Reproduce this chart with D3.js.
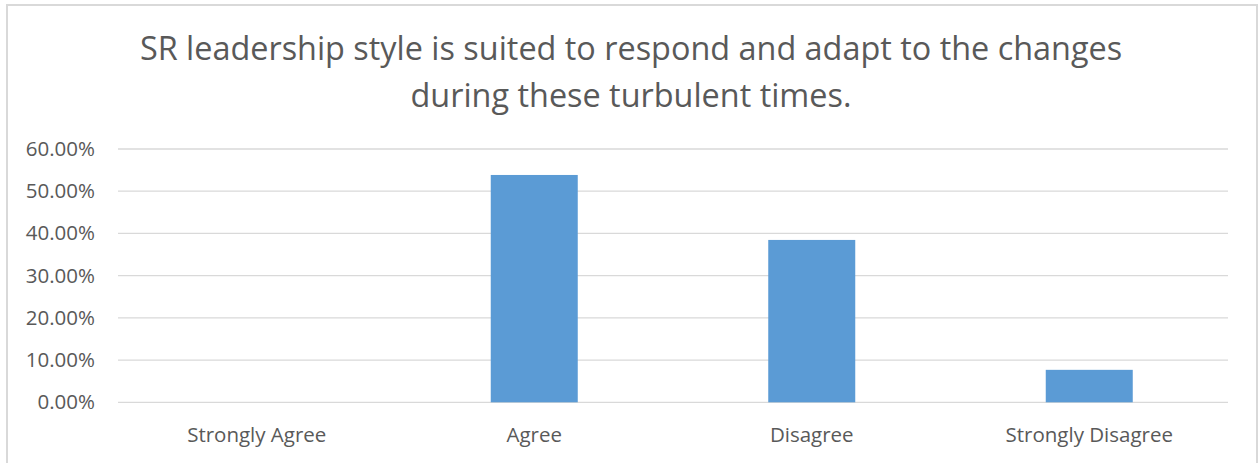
<!DOCTYPE html>
<html>
<head>
<meta charset="utf-8">
<script src="https://cdn.jsdelivr.net/npm/d3@7"></script>
<style>
  html, body { margin: 0; padding: 0; background: #ffffff; }
  svg { display: block; }
  text { font-family: "Open Sans", "Noto Sans", sans-serif; fill: #595959; }
</style>
</head>
<body>
<script>
// Survey responses (share of respondents)
const categories = ["Strongly Agree", "Agree", "Disagree", "Strongly Disagree"];
const shares = [0, 0.5385, 0.3846, 0.0769];
const yTicks = [0, 0.1, 0.2, 0.3, 0.4, 0.5, 0.6];
const titleLines = [
  "SR leadership style is suited to respond and adapt to the changes",
  "during these turbulent times."
];

const W = 1260, H = 463;
const svg = d3.select("body").append("svg").attr("width", W).attr("height", H);

// Chart frame (open at the bottom edge)
svg.append("path")
  .attr("d", `M7,${H} V5 H1257 V${H}`)
  .attr("fill", "none")
  .attr("stroke", "#d9d9d9")
  .attr("stroke-width", 2);

// Title
svg.append("g").selectAll("text")
  .data(titleLines)
  .join("text")
  .attr("x", 631)
  .attr("y", (d, i) => 60 + i * 47)
  .attr("text-anchor", "middle")
  .attr("font-size", 32.4)
  .text(d => d);

const x = d3.scaleBand().domain(categories).range([118, 1228]);
const y = d3.scaleLinear().domain([0, 0.6]).range([402.3, 149]);
const barW = x.bandwidth() * 0.3135;

// Gridlines
svg.append("g").selectAll("line")
  .data(yTicks)
  .join("line")
  .attr("x1", 118).attr("x2", 1228)
  .attr("y1", d => y(d)).attr("y2", d => y(d))
  .attr("stroke", "#d9d9d9")
  .attr("stroke-width", 1.3);

// Y axis labels
const yAxis = d3.axisLeft(y).tickValues(yTicks).tickSize(0).tickPadding(0)
  .tickFormat(d => (d * 100).toFixed(2) + "%");
svg.append("g")
  .attr("transform", "translate(95,0)")
  .call(yAxis)
  .call(g => g.select(".domain").remove())
  .call(g => g.selectAll("text")
    .attr("font-size", 20.5)
    .attr("font-family", null)
    .attr("fill", "#595959"));

// Bars
svg.append("g").selectAll("rect")
  .data(categories.map((c, i) => ({ c, v: shares[i] })))
  .join("rect")
  .attr("x", d => x(d.c) + (x.bandwidth() - barW) / 2)
  .attr("width", barW)
  .attr("y", d => y(d.v))
  .attr("height", d => y(0) - y(d.v))
  .attr("fill", "#5b9bd5");

// Category labels
const xAxis = d3.axisBottom(x).tickSize(0).tickPadding(0);
svg.append("g")
  .attr("transform", "translate(0,441.7)")
  .call(xAxis)
  .call(g => g.select(".domain").remove())
  .call(g => g.selectAll("text")
    .attr("dy", 0)
    .attr("font-size", 20.5)
    .attr("font-family", null)
    .attr("fill", "#595959"));
</script>
</body>
</html>
